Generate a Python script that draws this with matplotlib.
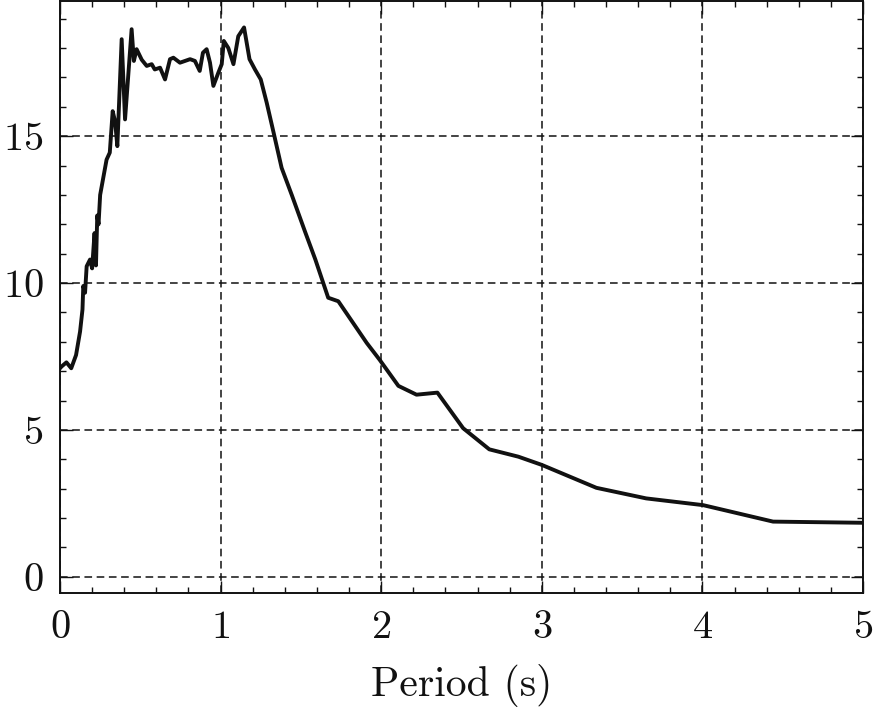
import matplotlib
matplotlib.use("Agg")
import matplotlib.pyplot as plt
from matplotlib.ticker import MultipleLocator

period = [0.00, 0.01, 0.04, 0.07, 0.10, 0.125, 0.14, 0.145, 0.156, 0.166, 0.187, 0.20,
          0.215, 0.224, 0.232, 0.24, 0.25, 0.29, 0.31, 0.328, 0.343, 0.357, 0.384,
          0.405, 0.446, 0.46, 0.477, 0.509, 0.54, 0.571, 0.59, 0.623, 0.654, 0.685,
          0.706, 0.747, 0.81, 0.84, 0.87, 0.89, 0.913, 0.934, 0.955, 0.986, 1.007,
          1.02, 1.048, 1.08, 1.11, 1.146, 1.18, 1.214, 1.25, 1.287, 1.33, 1.38,
          1.443, 1.525, 1.59, 1.67, 1.733, 1.91, 1.99, 2.107, 2.22, 2.35, 2.51,
          2.673, 2.854, 3.0, 3.34, 3.65, 4.005, 4.44, 5.0]
sa = [7.10, 7.16, 7.30, 7.10, 7.55, 8.35, 9.10, 9.90, 9.67, 10.57, 10.80, 10.50,
      11.70, 10.60, 12.30, 12.00, 13.00, 14.20, 14.44, 15.85, 15.50, 14.66, 18.30,
      15.57, 18.64, 17.56, 17.96, 17.60, 17.39, 17.45, 17.27, 17.33, 16.93, 17.62,
      17.67, 17.50, 17.62, 17.56, 17.22, 17.84, 17.96, 17.50, 16.71, 17.16, 17.45,
      18.24, 18.00, 17.45, 18.40, 18.70, 17.62, 17.27, 16.93, 16.14, 15.12, 13.92,
      13.00, 11.76, 10.80, 9.50, 9.38, 7.96, 7.39, 6.50, 6.20, 6.27, 5.06,
      4.34, 4.09, 3.81, 3.03, 2.67, 2.44, 1.88, 1.84]

plt.rcParams['font.family'] = ['cmr10', 'DejaVu Serif']
plt.rcParams['axes.formatter.use_mathtext'] = True

fig = plt.figure(figsize=(8.77, 7.11), dpi=100)
ax = fig.add_axes([60/877, 1 - 593/711, (863-60)/877, (593-1)/711])

ax.plot(period, sa, color='#111111', lw=2.8, solid_joinstyle='round')

ax.set_xlim(0, 5)
ax.set_ylim(-0.55, 19.6)
ax.xaxis.set_major_locator(MultipleLocator(1))
ax.xaxis.set_minor_locator(MultipleLocator(0.2))
ax.yaxis.set_major_locator(MultipleLocator(5))
ax.yaxis.set_minor_locator(MultipleLocator(1))
ax.tick_params(which='both', direction='in', top=True, right=True, width=1.0,
               color='#111111', labelsize=29, labelcolor='#111111')
ax.tick_params(which='major', length=9, pad=12)
ax.tick_params(which='minor', length=4.5)
ax.grid(True, which='major', ls=(0, (5, 3)), color='#111111', lw=1.1)
for s in ax.spines.values():
    s.set_linewidth(1.4)
    s.set_color('#111111')

ax.set_xlabel('Period (s)', fontsize=30, color='#111111', labelpad=13)

fig.savefig('out.png', dpi=100)
